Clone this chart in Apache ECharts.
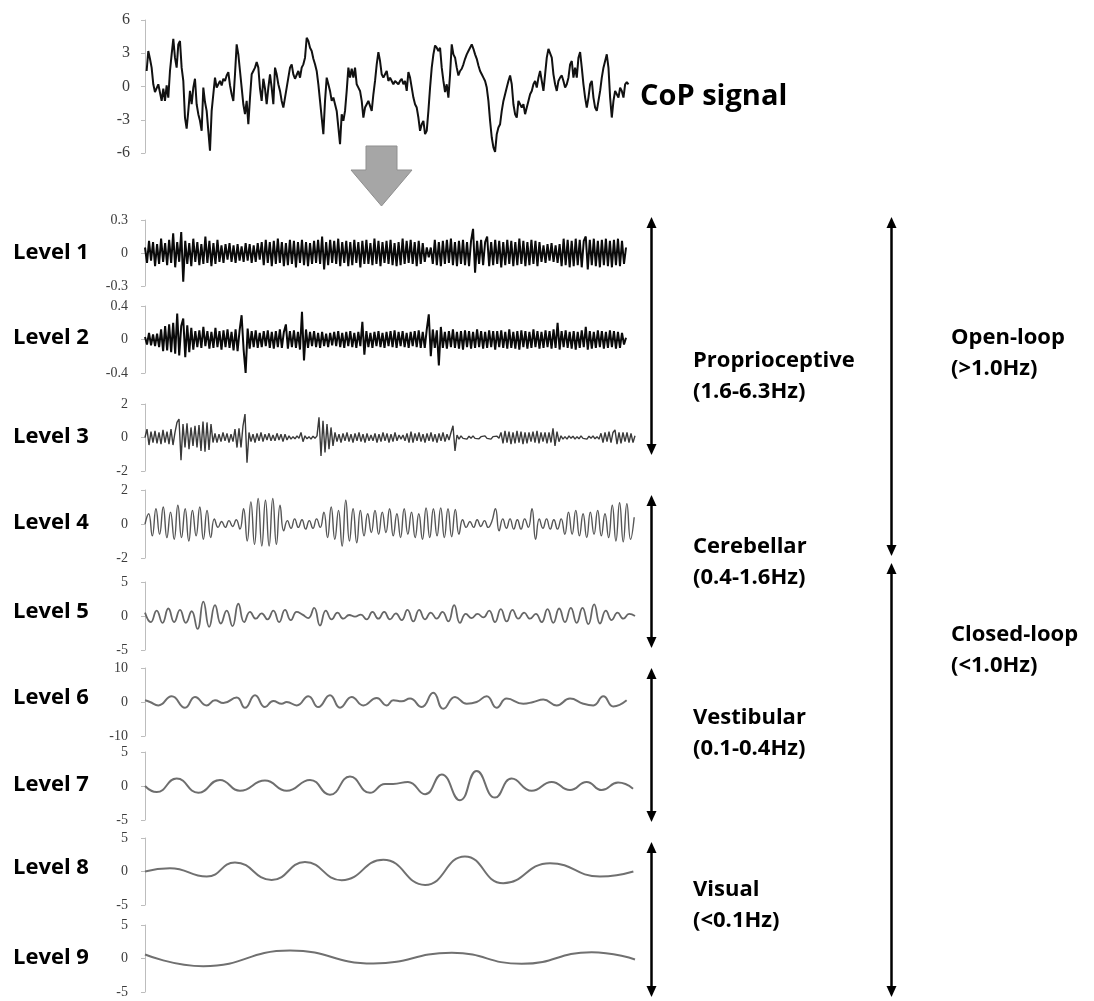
<!DOCTYPE html>
<html>
<head>
<meta charset="utf-8">
<script src="https://cdn.jsdelivr.net/npm/echarts@6/dist/echarts.min.js"></script>
<style>
  html, body { margin: 0; padding: 0; background: #ffffff; }
  #chart { width: 1094px; height: 1001px; }
</style>
</head>
<body>
<div id="chart"></div>
<script>
// ---- Centre-of-pressure trace (time in s, value in mm) ----
const copSpan = [0.2, 59.2];
const copSignal = [
  1.4,3.2,2.5,1.7,0.2,-0.5,-0.4,0.2,0.2,-1.3,
  -0.2,-1.3,0.1,-1.0,1.4,2.9,4.3,2.6,1.7,3.8,
  4.1,1.7,0.5,-2.8,-3.8,-2.2,-0.4,-1.6,-0.1,0.7,
  -1.6,-2.5,-3.1,-4.0,-0.1,-1.4,-2.2,-4.0,-5.8,-2.2,
  -0.7,0.8,-0.1,0.2,0.5,0.1,0.7,0.5,1.0,1.3,
  0.1,-0.7,-1.3,1.1,3.8,2.9,1.4,-0.1,-1.6,-2.5,
  -1.3,-3.4,-1.0,1.1,1.4,1.7,2.2,1.7,-0.2,-1.3,
  0.7,-0.2,-1.6,-0.1,1.1,-0.1,-1.6,1.7,1.1,0.2,
  -0.4,-1.3,-1.9,-1.0,-0.1,0.8,1.7,2.0,1.1,0.7,
  0.8,1.4,0.8,1.7,2.0,2.6,4.4,4.1,3.5,3.2,
  2.5,2.0,1.4,0.2,-1.3,-2.8,-4.3,-1.3,0.8,0.2,
  -0.4,-1.3,-1.0,-1.6,-2.2,-3.7,-5.2,-2.5,-3.1,-2.2,
  -0.4,1.7,0.8,1.6,0.8,1.7,0.2,-0.1,-0.4,-1.3,
  -2.8,-1.9,-1.6,-1.3,-1.3,-2.2,-0.7,0.5,2.0,3.1,
  2.3,1.1,0.8,1.1,1.4,0.5,0.8,0.5,0.2,0.5,
  0.4,0.2,0.5,
  0.7,0.2,0.5,-0.4,1.3,0.8,-0.1,-1.0,-1.6,-1.9,
  -2.8,-4.0,-3.4,-3.1,-4.3,-4.0,-2.2,-0.1,1.7,2.9,
  3.7,3.5,3.2,3.5,1.7,0.5,-0.5,0.2,-1.0,1.1,
  3.8,2.9,2.6,1.7,1.0,1.4,1.6,2.0,2.5,2.9,
  3.2,3.5,3.8,3.4,2.9,2.5,1.9,1.4,1.1,0.8,
  0.5,-0.1,-1.3,-3.1,-4.6,-5.5,-5.9,-4.3,-3.7,-3.4,
  -2.2,-1.3,-0.7,-0.1,0.5,1.0,0.2,-1.6,-2.5,-2.8,
  -1.3,-1.3,-1.9,-1.6,-2.5,-1.9,-1.3,-0.7,-0.4,0.2,
  0.5,-0.1,0.8,1.4,0.5,-0.4,1.1,2.6,3.4,3.5,
  2.6,1.1,0.2,-0.4,0.5,0.8,1.0,0.5,-0.1,0.2,
  0.8,2.0,2.3,0.8,1.7,0.8,2.6,3.1,1.7,0.2,
  -1.0,-1.9,-1.0,0.2,0.5,-1.0,-1.9,-2.2,-1.3,-0.4,
  0.8,1.7,2.3,2.9,1.7,-1.0,-2.8,-1.3,-0.4,-0.7,
  -1.0,-0.1,-0.4,-1.0,0.2,0.4,0.2
];

// ---- Wavelet detail levels ----
const level1Span = [0, 58.9];
const level1 = [
  0.05,-0.09,0.11,-0.07,0.1,-0.12,0.08,-0.1,0.13,-0.08,
  0.09,-0.11,0.12,-0.09,0.18,-0.13,0.1,-0.08,0.19,-0.26,
  0.11,-0.1,0.09,-0.12,0.13,-0.08,0.1,-0.11,0.08,-0.1,
  0.15,-0.09,0.11,-0.12,0.09,-0.1,0.12,-0.08,0.07,-0.09,
  0.08,-0.06,0.09,-0.08,0.07,-0.09,0.08,-0.07,0.06,-0.08,
  0.09,-0.07,0.08,-0.09,0.07,-0.08,0.09,-0.06,0.1,-0.11,
  0.12,-0.09,0.1,-0.12,0.11,-0.1,0.13,-0.09,0.1,-0.12,
  0.09,-0.11,0.12,-0.1,0.11,-0.13,0.1,-0.09,0.12,-0.11,
  0.1,-0.12,0.09,-0.1,0.11,-0.09,0.12,-0.1,0.15,-0.15,
  0.1,-0.11,0.12,-0.09,0.11,-0.1,0.13,-0.12,0.1,-0.09,
  0.11,-0.12,0.1,-0.11,0.12,-0.09,0.1,-0.13,0.11,-0.1,
  0.12,-0.1,0.09,-0.11,0.13,-0.1,0.11,-0.12,0.1,-0.09,
  0.11,-0.1,0.12,-0.11,0.09,-0.12,0.1,-0.11,0.13,-0.1,
  0.11,-0.09,0.12,-0.1,0.1,-0.12,0.11,-0.1,0.09,-0.08,
  0.05,-0.04,0.05,-0.1,0.12,-0.11,0.1,-0.12,0.11,-0.1,
  0.12,-0.09,0.13,-0.11,0.1,-0.12,0.11,-0.1,0.12,-0.11,
  0.1,-0.12,0.11,0.22,-0.18,0.11,-0.1,0.12,-0.11,0.1,
  0.15,-0.12,0.1,-0.11,0.12,-0.1,0.11,-0.13,0.1,-0.11,
  0.12,-0.1,0.11,-0.12,0.1,-0.11,0.13,-0.1,0.11,-0.12,
  0.1,-0.11,0.12,-0.1,0.11,-0.12,0.1,-0.08,0.07,-0.09,
  0.08,-0.07,0.09,-0.08,0.07,-0.09,0.08,-0.12,0.13,-0.11,
  0.12,-0.13,0.11,-0.12,0.13,-0.11,0.12,-0.13,0.11,0.15,
  -0.15,0.12,-0.11,0.13,-0.12,0.11,-0.13,0.12,-0.11,0.13,
  -0.12,0.11,-0.13,0.12,-0.11,0.13,-0.12,0.11,-0.1,0.05
];

const level2Span = [0, 58.9];
const level2 = [
  0.03,-0.06,0.08,-0.07,0.06,-0.08,0.07,-0.09,0.12,-0.14,
  0.16,-0.13,0.18,-0.15,0.2,-0.17,0.31,-0.19,0.16,0.25,
  -0.21,0.17,-0.15,0.14,-0.12,0.1,-0.09,0.11,-0.1,0.15,
  -0.08,0.1,-0.11,0.09,-0.1,0.14,-0.09,0.1,-0.12,0.11,
  -0.09,0.12,-0.1,0.09,-0.13,0.12,-0.14,0.11,0.29,-0.12,
  -0.4,0.13,-0.11,0.1,-0.09,0.11,-0.1,0.08,-0.09,0.1,
  -0.08,0.11,-0.1,0.09,-0.11,0.1,-0.09,0.12,-0.1,0.09,
  0.18,-0.11,0.1,-0.09,0.11,-0.1,0.09,-0.12,0.33,-0.25,
  0.12,-0.1,0.09,-0.08,0.1,-0.09,0.08,-0.1,0.09,-0.08,
  0.07,-0.09,0.08,-0.07,0.09,-0.08,0.1,-0.09,0.08,-0.1,
  0.09,-0.08,0.1,-0.09,0.08,-0.1,0.09,-0.08,0.21,-0.18,
  0.1,-0.09,0.08,-0.1,0.09,-0.08,0.1,-0.09,0.08,-0.1,
  0.09,-0.08,0.1,-0.09,0.11,-0.1,0.09,-0.08,0.1,-0.09,
  0.08,-0.1,0.09,-0.08,0.1,-0.09,0.11,-0.1,0.09,-0.1,
  0.12,0.3,-0.2,0.12,-0.1,0.11,-0.31,0.15,-0.1,0.09,
  -0.11,0.1,-0.09,0.12,-0.1,0.09,-0.11,0.1,-0.12,0.11,
  -0.09,0.1,-0.11,0.09,-0.1,0.12,-0.09,0.1,-0.11,0.09,
  -0.1,0.11,-0.09,0.1,-0.12,0.1,-0.09,0.11,-0.1,0.09,
  -0.11,0.12,-0.1,0.09,-0.11,0.1,-0.12,0.11,-0.09,0.1,
  -0.11,0.09,-0.1,0.12,-0.09,0.1,-0.11,0.09,-0.1,0.11,
  -0.09,0.1,-0.11,0.12,-0.1,0.2,-0.12,0.1,-0.09,0.11,
  -0.1,0.09,-0.11,0.1,-0.12,0.09,-0.1,0.11,-0.09,0.15,
  -0.12,0.1,-0.11,0.09,-0.1,0.11,-0.09,0.1,-0.11,0.09,
  -0.1,0.11,-0.09,0.1,-0.11,0.09,-0.1,0.08,-0.06,0.02
];

const level3Span = [0, 60];
const level3 = [
  0,0.5,-0.45,0.35,-0.3,0.4,-0.35,0.3,-0.4,0.45,
  -0.3,0.35,-0.4,0.5,-0.45,0.3,0.9,1.1,-1.35,0.8,
  -0.6,0.85,-0.7,0.6,-0.5,0.7,-0.6,0.75,-0.8,0.95,
  -0.85,0.9,-0.75,0.8,-0.3,0.25,-0.3,0.2,-0.25,0.3,
  -0.2,0.25,-0.3,0.2,-0.25,0.5,-0.6,0.55,-0.6,0.7,
  1.4,-1.5,0.3,-0.25,0.2,-0.3,0.25,-0.2,0.3,-0.25,
  0.2,-0.15,0.25,-0.2,0.15,-0.2,0.25,-0.15,0.2,-0.25,
  0.2,-0.15,0.1,-0.1,0.05,-0.08,0.1,-0.05,0.3,-0.25,
  0.1,-0.08,0.05,-0.1,0.08,-0.05,0.1,1.2,-1.1,1.0,
  -0.9,0.8,-0.7,0.6,-0.5,0.3,-0.25,0.2,-0.3,0.25,
  -0.2,0.3,-0.25,0.2,-0.3,0.25,-0.2,0.3,-0.25,0.2,
  -0.3,0.25,-0.2,0.15,-0.2,0.25,-0.3,0.2,-0.25,0.3,
  -0.2,0.25,-0.3,0.2,-0.25,0.3,-0.2,0.15,-0.1,0.15,
  -0.2,0.25,-0.3,0.35,-0.3,0.25,-0.2,0.3,-0.25,0.2,
  -0.3,0.25,-0.2,0.3,-0.25,0.2,-0.3,0.25,-0.2,0.3,
  -0.25,0.2,-0.15,0.3,0.7,-0.8,0.15,-0.1,0.1,-0.05,
  0.05,-0.1,0.08,-0.05,0.1,-0.05,0.05,-0.08,0.05,-0.05,
  0.1,-0.05,0.05,-0.1,0.05,-0.05,0.08,-0.05,0.3,-0.35,
  0.4,-0.3,0.35,-0.4,0.3,-0.35,0.4,-0.3,0.35,-0.4,
  0.3,-0.35,0.3,-0.25,0.35,-0.3,0.4,-0.35,0.3,-0.25,
  0.3,-0.35,0.3,-0.3,0.55,-0.5,0.35,-0.25,0.1,-0.1,
  0.05,-0.1,0.1,-0.05,0.08,-0.1,0.05,-0.08,0.1,-0.05,
  0.05,-0.1,0.08,-0.05,0.1,-0.08,0.05,-0.1,0.25,-0.3,
  0.3,-0.25,0.35,-0.3,0.3,0.45,-0.4,0.3,-0.35,0.3,
  -0.25,0.3,-0.3,0.25,-0.3,0.1
];

// Levels 4 and 5: successive peaks and troughs, evenly spaced in time
const level4Span = [0, 59.9];
const level4 = [
  0,0.6,-0.7,0.9,-0.6,1.0,-0.8,0.7,-0.9,1.1,
  -0.8,0.9,-1.0,0.8,-0.7,1.0,-0.9,0.8,-0.8,0.3,
  -0.2,0.15,-0.2,0.2,-0.15,0.25,-0.3,0.9,-1.0,1.3,
  -1.2,1.5,-1.3,1.4,-1.3,1.5,-1.2,1.1,-0.4,0.2,
  -0.25,0.3,-0.2,0.25,-0.3,0.2,-0.25,0.3,-0.2,0.7,
  -0.8,1.0,-0.9,0.8,-1.3,1.4,-1.0,0.9,-1.1,0.8,
  -0.7,0.6,-0.5,0.8,-0.6,0.7,-0.5,0.9,-0.7,0.6,
  -0.8,0.9,-0.6,0.7,-0.8,0.6,-0.9,0.95,-0.8,0.9,
  -0.7,0.95,-0.8,0.9,-0.75,0.85,-0.6,0.25,-0.2,0.15,
  -0.2,0.25,-0.15,0.2,-0.2,0.15,0.9,-0.4,0.3,-0.25,
  0.3,-0.3,0.25,-0.3,0.3,-0.2,0.9,-0.9,0.3,-0.25,
  0.3,-0.3,0.25,-0.3,0.3,-0.6,0.7,-0.6,0.8,-0.7,
  0.6,-0.8,0.7,-0.6,0.8,-0.7,0.6,-0.8,1.1,-1.0,
  1.25,-1.05,1.2,-0.9,0.4
];

const level5Span = [0, 60];
const level5 = [
  0.5,-0.9,0.8,-1.0,1.1,-0.9,0.9,-1.0,0.7,-1.9,
  2.1,-1.6,1.6,-1.1,0.8,-1.5,1.8,-0.9,0.6,-0.4,
  0.4,-0.5,0.8,-0.9,0.9,-0.6,0.6,0.2,-0.3,1.2,
  -1.4,0.8,-0.5,0.5,-0.4,0.15,-0.1,0.2,-0.5,0.6,
  -0.4,0.6,-0.5,0.4,-0.6,0.9,-0.8,0.9,-0.5,0.5,
  -0.4,0.6,-0.8,1.6,-1.0,0.3,-0.3,0.3,-0.2,0.8,
  -0.9,1.0,-0.8,0.9,-0.4,0.5,-0.4,0.3,-0.9,1.0,
  -1.0,1.1,-0.9,1.2,-1.0,1.2,-1.2,1.7,-1.1,0.8,
  -0.6,0.5,-0.4,0.3,0
];

// Levels 6-9: [time (s), value] at each turning point
const level6 = [
  [0,0.5],[0.61,0],[1.63,-1.0],[3.27,1.7],[4.9,-1.7],[6.12,1.5],[7.56,-1.0],
  [8.57,0.5],[9.59,-0.3],[11.23,1.3],[12.24,-1.7],[13.47,2.0],[14.69,-1.5],
  [15.71,0.3],[16.74,-0.5],[17.35,0],[18.58,-1.0],[20.0,1.7],[21.22,-1.5],
  [22.65,2.0],[23.88,-1.7],[25.31,1.5],[26.73,-1.0],[28.37,1.2],[29.59,-1.0],
  [30.4,0.5],[31.43,0.2],[32.45,1.0],[33.88,-1.5],[35.3,2.7],[36.53,-2.0],
  [37.96,1.5],[39.39,-0.5],[40.61,0],[41.84,1.7],[43.06,-1.7],[44.29,1.0],
  [46.32,-0.5],[47.55,0],[48.77,0.7],[50.41,-1.0],[52.04,1.0],[53.67,-0.5],
  [54.9,-1.0],[56.12,1.7],[57.34,-1.3],[58.98,0.5]
];
const level7 = [
  [0,0],[1.43,-0.9],[3.88,1.1],[6.53,-1.0],[9.18,0.9],[11.63,-0.7],[14.69,0.8],
  [17.35,-0.7],[20.2,0.9],[22.65,-1.3],[25.1,1.4],[27.55,-1.0],[29.39,0.3],
  [30.37,0.3],[32.2,0.6],[34.29,-1.2],[36.33,1.7],[38.57,-2.1],[40.61,2.2],
  [42.86,-1.7],[44.9,1.1],[47.35,-0.7],[49.8,0.6],[52.04,-0.6],[54.08,0.6],
  [55.92,-0.6],[57.92,0.5],[59.76,-0.4]
];
const level8 = [
  [0,0],[3.06,0.5],[7.56,-0.75],[11.02,1.35],[15.51,-1.25],[19.59,1.4],
  [24.08,-1.3],[29.18,1.75],[34.29,-2.0],[39.18,2.25],[43.87,-1.75],
  [49.59,1.25],[55.71,-0.75],[59.8,0]
];
const level9 = [
  [0,0.6],[7.14,-1.15],[17.76,1.2],[27.96,-0.75],[37.56,0.85],[46.13,-0.8],
  [54.7,0.95],[60,-0.15]
];

// Y-axis limits (min = -lim, max = lim) and tick spacing per panel
const yLimits = [6, 0.3, 0.4, 2, 2, 5, 10, 5, 5, 5];
const yIntervals = [3, 0.3, 0.4, 2, 2, 5, 10, 5, 5, 5];

// Text
const levelNames = ['Level 1','Level 2','Level 3','Level 4','Level 5','Level 6','Level 7','Level 8','Level 9'];
const bandNames = ['Proprioceptive', 'Cerebellar', 'Vestibular', 'Visual'];
const bandRanges = ['(1.6-6.3Hz)', '(0.4-1.6Hz)', '(0.1-0.4Hz)', '(<0.1Hz)'];
const loopNames = ['Open-loop', 'Closed-loop'];
const loopRanges = ['(>1.0Hz)', '(<1.0Hz)'];
const signalTitle = 'CoP signal';

// ---- Layout ----
const plotLeft = 145, plotWidth = 490;
const panelTop = [20, 220, 306, 404, 490, 582, 668, 752, 838, 925];
const panelHeight = [133, 66, 67, 67, 68, 68, 68, 68, 67, 67];
const levelLabelY = [253, 338, 437, 523, 612, 698, 785, 868, 958];
const bandLabelY = [361, 547, 718, 890];
const loopLabelY = [338, 635];
const bandArrows = [[217, 455], [495, 648], [668, 822], [842, 997]];
const loopArrows = [[217, 556], [563, 997]];
const bandArrowX = 651.5, loopArrowX = 891.5;

function spread(values, span) {
  const step = (span[1] - span[0]) / (values.length - 1);
  return values.map((v, i) => [span[0] + i * step, v]);
}

const seriesData = [
  spread(copSignal, copSpan),
  spread(level1, level1Span),
  spread(level2, level2Span),
  spread(level3, level3Span),
  spread(level4, level4Span),
  spread(level5, level5Span),
  level6, level7, level8, level9
];
const lineColor = ['#111111', '#0a0a0a', '#0a0a0a', '#3a3a3a', '#555555', '#666666', '#6e6e6e', '#6e6e6e', '#707070', '#707070'];
const lineWidth = [2, 2, 2, 1.4, 1.4, 1.8, 2, 2, 2, 2];
const lineSmooth = [false, false, false, false, true, true, true, true, true, true];

const grids = [], xAxes = [], yAxes = [], series = [];
for (let p = 0; p < 10; p++) {
  grids.push({ left: plotLeft, width: plotWidth, top: panelTop[p], height: panelHeight[p] });
  xAxes.push({ type: 'value', gridIndex: p, min: 0, max: 60, show: false });
  const lim = yLimits[p];
  yAxes.push({
    type: 'value', gridIndex: p, min: -lim, max: lim, interval: yIntervals[p],
    splitLine: { show: false },
    axisLine: { show: true, lineStyle: { color: '#bdbdbd', width: 1 } },
    axisTick: { show: true, length: 4, lineStyle: { color: '#bdbdbd' } },
    axisLabel: {
      color: '#3c3c3c', margin: p === 0 ? 15 : 17,
      fontFamily: '"Liberation Serif", serif',
      fontSize: p === 0 ? 16 : 14
    }
  });
  series.push({
    type: 'line', xAxisIndex: p, yAxisIndex: p,
    data: seriesData[p], showSymbol: false, symbol: 'none',
    smooth: lineSmooth[p] ? 0.5 : false,
    lineStyle: { color: lineColor[p], width: lineWidth[p], join: 'bevel' },
    clip: false
  });
}

const labelFont = 'bold 22px "Open Sans", sans-serif';
const graphic = [];
function addText(text, x, y, font) {
  graphic.push({
    type: 'text', x: x, y: y, z: 100,
    style: { text: text, font: font || labelFont, fill: '#000000', align: 'left', verticalAlign: 'middle' }
  });
}
function addArrow(x, y1, y2) {
  const head = 11, half = 5;
  graphic.push({ type: 'line', z: 100, shape: { x1: x, y1: y1 + head - 1, x2: x, y2: y2 - head + 1 },
    style: { stroke: '#000000', lineWidth: 2.5 } });
  graphic.push({ type: 'polygon', z: 100, shape: { points: [[x, y1], [x - half, y1 + head], [x + half, y1 + head]] },
    style: { fill: '#000000' } });
  graphic.push({ type: 'polygon', z: 100, shape: { points: [[x, y2], [x - half, y2 - head], [x + half, y2 - head]] },
    style: { fill: '#000000' } });
}

levelNames.forEach((n, i) => addText(n, 13, levelLabelY[i]));
bandNames.forEach((n, i) => {
  addText(n, 693, bandLabelY[i]);
  addText(bandRanges[i], 693, bandLabelY[i] + 31);
});
loopNames.forEach((n, i) => {
  addText(n, 951, loopLabelY[i]);
  addText(loopRanges[i], 951, loopLabelY[i] + 31);
});
addText(signalTitle, 640, 97, 'bold 29px "Open Sans", sans-serif');
bandArrows.forEach(a => addArrow(bandArrowX, a[0], a[1]));
loopArrows.forEach(a => addArrow(loopArrowX, a[0], a[1]));

// Grey block arrow from the raw signal down to its decomposition
graphic.push({
  type: 'polygon', z: 90,
  shape: { points: [[366, 146], [397, 146], [397, 170], [412, 170], [381.5, 206], [351, 170], [366, 170]] },
  style: { fill: '#a6a6a6', stroke: '#8f8f8f', lineWidth: 1 }
});

const chart = echarts.init(document.getElementById('chart'), null, { renderer: 'canvas' });
chart.setOption({
  animation: false,
  backgroundColor: '#ffffff',
  grid: grids,
  xAxis: xAxes,
  yAxis: yAxes,
  series: series,
  graphic: graphic
});
</script>
</body>
</html>
